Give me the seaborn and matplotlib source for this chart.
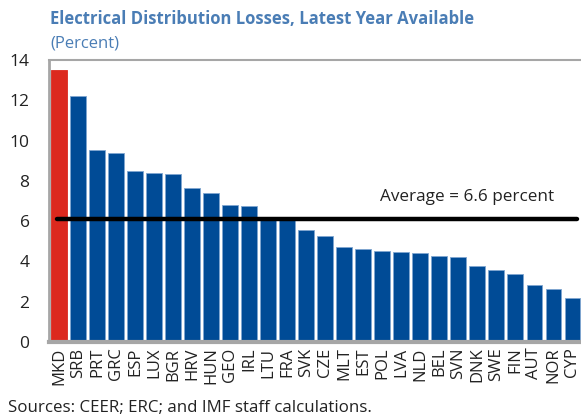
import numpy as np
import pandas as pd
import seaborn as sns
import matplotlib.pyplot as plt

countries = ["MKD", "SRB", "PRT", "GRC", "ESP", "LUX", "BGR", "HRV", "HUN", "GEO",
             "IRL", "LTU", "FRA", "SVK", "CZE", "MLT", "EST", "POL", "LVA", "NLD",
             "BEL", "SVN", "DNK", "SWE", "FIN", "AUT", "NOR", "CYP"]
losses = [13.5, 12.2, 9.53, 9.37, 8.5, 8.4, 8.34, 7.66, 7.38, 6.79,
          6.74, 6.2, 6.1, 5.56, 5.25, 4.72, 4.6, 4.52, 4.48, 4.43,
          4.27, 4.22, 3.77, 3.56, 3.36, 2.85, 2.65, 2.17]
average_line = 6.1
average_label = "Average = 6.6 percent"

RED = "#dc291e"
BLUE = "#004b96"
TITLE_BLUE = "#4a7db5"
GRAY = "#a6a6a6"

sns.set_style("white")
plt.rcParams["font.family"] = ["Open Sans", "DejaVu Sans"]

df = pd.DataFrame({"country": countries, "loss": losses})
colors = [RED] + [BLUE] * (len(countries) - 1)

fig = plt.figure(figsize=(5.81, 4.20), dpi=100)
ax = fig.add_axes([49 / 581, 1 - 342 / 420, 1 - 49 / 581, (342 - 60) / 420])

sns.barplot(data=df, x="country", y="loss", hue="country", palette=colors,
            saturation=1, legend=False, width=0.83, ax=ax,
            edgecolor="#7fa6d0", linewidth=0.6)
ax.patches[0].set_edgecolor(RED)

ax.axhline(average_line, xmin=0.015, xmax=0.992, color="black", lw=3.2)
ax.text(0.785, 6.8, average_label, ha="center", va="bottom", fontsize=12.3,
        color="#222222", transform=ax.get_yaxis_transform())

ax.set_xlim(-0.52, 27.45)
ax.set_ylim(0, 14)
ax.set_yticks(range(0, 15, 2))
ax.set_xlabel("")
ax.set_ylabel("")
ax.tick_params(axis="y", direction="in", length=4, width=1.5, color=GRAY,
               labelsize=12.5, pad=14, labelcolor="#222222")
ax.tick_params(axis="x", length=0, labelsize=12, rotation=90, pad=4,
               labelcolor="#222222")
ax.set_xticks(np.arange(0.5, len(countries) - 0.5), minor=True)
ax.tick_params(axis="x", which="minor", direction="in", length=3, width=1.2,
               color=GRAY)

for side in ["left", "top", "bottom"]:
    ax.spines[side].set_color(GRAY)
ax.spines["left"].set_linewidth(2)
ax.spines["top"].set_linewidth(1.5)
ax.spines["bottom"].set_linewidth(3)
ax.spines["right"].set_visible(False)

fig.text(50 / 581, 1 - 19 / 420, "Electrical Distribution Losses, Latest Year Available",
         fontsize=12, fontweight="bold", color=TITLE_BLUE, va="center")
fig.text(50 / 581, 1 - 43 / 420, "(Percent)", fontsize=12, color=TITLE_BLUE,
         va="center")
fig.text(8 / 581, 1 - 408 / 420, "Sources: CEER; ERC; and IMF staff calculations.",
         fontsize=12.2, color="#222222", va="center")

fig.savefig("out.png", dpi=100)
